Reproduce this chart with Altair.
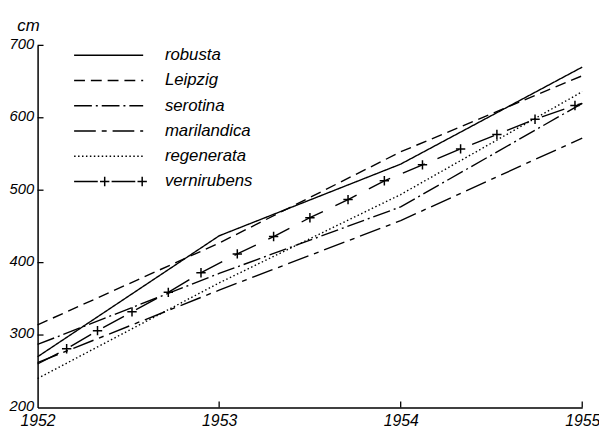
import altair as alt
import pandas as pd

# ---- data ----
years = [1952, 1953, 1954, 1955]
series_names = ["robusta", "Leipzig", "serotina", "marilandica", "regenerata", "vernirubens"]
robusta = [270, 437, 536, 670]
leipzig = [314, 427, 553, 658]
serotina = [287, 385, 477, 620]
marilandica = [262, 362, 458, 572]
regenerata = [240, 372, 494, 636]
# vernirubens: read at each '+' mark along its curve, plus the two end points
vern_years = [1952.0, 1952.16, 1952.33, 1952.52, 1952.72, 1952.90, 1953.10, 1953.30,
              1953.50, 1953.71, 1953.91, 1954.12, 1954.33, 1954.53, 1954.74, 1954.96, 1955.0]
vern_values = [260, 281, 306, 332, 359, 386, 412, 436, 462, 487, 513, 535, 557, 577,
               598, 617, 620]

x_ticks = [1952, 1953, 1954, 1955]
y_ticks = [200, 300, 400, 500, 600, 700]

# ---- styling ----
FONT = "Liberation Sans"
W, H = 552, 367
dash_patterns = [[1, 0], [11, 6], [18, 4, 2, 4], [22, 6, 5, 6], [1.5, 2.5], [24, 14]]
PLUS = "M-1,0L1,0M0,-1L0,1"

rows = []
for name, vals in zip(series_names[:5], [robusta, leipzig, serotina, marilandica, regenerata]):
    for yr, v in zip(years, vals):
        rows.append({"series": name, "year": yr, "value": v})
for yr, v in zip(vern_years, vern_values):
    rows.append({"series": "vernirubens", "year": yr, "value": v})
df = pd.DataFrame(rows)
marks_df = pd.DataFrame({"year": vern_years[1:-1], "value": vern_values[1:-1]})

xscale = alt.Scale(domain=[1952, 1955], nice=False, zero=False)
yscale = alt.Scale(domain=[200, 700], nice=False, zero=False)
dash_scale = alt.Scale(domain=series_names, range=dash_patterns)

lines = alt.Chart(df).mark_line(color="black", strokeWidth=1.4).encode(
    x=alt.X("year:Q", scale=xscale, axis=alt.Axis(
        values=x_ticks, format="d", title=None, ticks=False, grid=False,
        domainColor="black", domainWidth=1.5, labelFont=FONT, labelFontStyle="italic",
        labelFontSize=16, labelColor="black", labelPadding=5, labelFlush=False)),
    y=alt.Y("value:Q", scale=yscale, axis=alt.Axis(
        values=y_ticks, title="cm", ticks=False, grid=False,
        domainColor="black", domainWidth=1.5, labelFont=FONT, labelFontStyle="italic",
        labelFontSize=15, labelColor="black", labelPadding=4, labelOffset=-2,
        titleAngle=0, titleAlign="left", titleBaseline="alphabetic", titleX=-21, titleY=-15,
        titleFont=FONT, titleFontStyle="italic", titleFontWeight="normal", titleFontSize=17,
        titleColor="black")),
    strokeDash=alt.StrokeDash("series:N", scale=dash_scale, legend=None),
    detail="series:N",
)

plus_marks = alt.Chart(marks_df).mark_point(
    shape=PLUS, size=90, filled=False, stroke="black", strokeWidth=1.5, opacity=1
).encode(x=alt.X("year:Q", scale=xscale), y=alt.Y("value:Q", scale=yscale))

xt = alt.Chart(pd.DataFrame({"year": x_ticks[1:]})).mark_rule(color="black", strokeWidth=1.3).encode(
    x=alt.X("year:Q", scale=xscale), y=alt.value(H), y2=alt.value(H - 6))
yt = alt.Chart(pd.DataFrame({"value": y_ticks[1:]})).mark_rule(color="black", strokeWidth=1.3).encode(
    y=alt.Y("value:Q", scale=yscale), x=alt.value(0), x2=alt.value(6))

leg_df = pd.DataFrame({"series": series_names})
leg_y = alt.Y("series:N", scale=alt.Scale(type="point", domain=series_names, range=[10, 138], padding=0), axis=None)
leg_lines = alt.Chart(leg_df).mark_rule(color="black", strokeWidth=1.4).encode(
    y=leg_y, x=alt.value(37), x2=alt.value(107),
    strokeDash=alt.StrokeDash("series:N", scale=dash_scale, legend=None))
leg_text = alt.Chart(leg_df).mark_text(
    align="left", baseline="middle", font=FONT, fontStyle="italic", fontSize=17, color="black"
).encode(y=leg_y, x=alt.value(129), text="series:N")
vern_only = pd.DataFrame({"series": ["vernirubens"]})
leg_p1 = alt.Chart(vern_only).mark_point(shape=PLUS, size=90, filled=False, stroke="black", strokeWidth=1.5, opacity=1).encode(
    y=leg_y, x=alt.value(68))
leg_p2 = alt.Chart(vern_only).mark_point(shape=PLUS, size=90, filled=False, stroke="black", strokeWidth=1.5, opacity=1).encode(
    y=leg_y, x=alt.value(106))

main = alt.layer(lines, plus_marks, xt, yt)
legend = alt.layer(leg_lines, leg_text, leg_p1, leg_p2)

chart = alt.layer(main, legend).resolve_scale(y="independent").properties(
    width=W, height=H,
    padding={"left": 30, "top": 35, "right": 17, "bottom": 21},
    autosize=alt.AutoSizeParams(type="none"),
    background="white",
).configure_view(strokeWidth=0)

chart.save("out.html", embed_options={"renderer": "svg", "actions": False})
